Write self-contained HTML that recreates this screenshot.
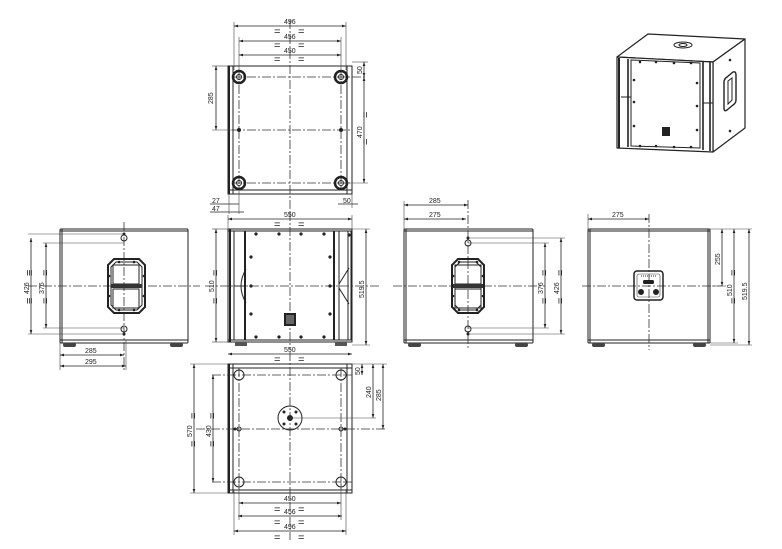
<!DOCTYPE html>
<html><head><meta charset="utf-8"><style>
html,body{margin:0;padding:0;background:#fff;}
svg{display:block;}
text{font-family:"Liberation Sans",sans-serif;font-size:7px;fill:#222;}
text.q{font-size:11px;}
.l{stroke:#222;stroke-width:1;fill:none;}
.t{stroke:#222;stroke-width:2;fill:none;}
.d{stroke:#222;stroke-width:0.8;fill:none;}
.c{stroke:#333;stroke-width:0.8;fill:none;stroke-dasharray:9,2,2,2;}
.e{stroke:#444;stroke-width:0.6;fill:none;}
</style></head><body>
<svg width="782" height="549" viewBox="0 0 782 549" xmlns="http://www.w3.org/2000/svg">
<defs>
<marker id="a" viewBox="0 0 6 6" refX="6" refY="3" markerWidth="5" markerHeight="5" orient="auto-start-reverse"><path d="M0,1 L6,3 L0,5 z" fill="#222"/></marker>
</defs>

<!-- ===== TOP VIEW ===== -->
<rect class="l" x="228" y="66" width="124" height="128"/>
<line class="t" x1="229" y1="66" x2="229" y2="194"/>
<line class="l" x1="233" y1="66" x2="233" y2="194"/>
<line class="l" x1="347" y1="66" x2="347" y2="194"/>
<line class="l" x1="228" y1="190" x2="352" y2="190"/>
<line class="c" x1="232" y1="77" x2="366" y2="77"/>
<line class="c" x1="232" y1="130" x2="352" y2="130"/>
<line class="c" x1="232" y1="183" x2="352" y2="183"/>
<line class="c" x1="239" y1="70" x2="239" y2="190"/>
<line class="c" x1="341" y1="70" x2="341" y2="190"/>
<line class="c" x1="290" y1="20" x2="290" y2="215"/>
<g fill="none" stroke="#222">
<circle cx="239" cy="77" r="6" stroke-width="2.5"/><circle cx="239" cy="77" r="2.5"/>
<circle cx="341" cy="77" r="6" stroke-width="2.5"/><circle cx="341" cy="77" r="2.5"/>
<circle cx="239" cy="183" r="6" stroke-width="2.5"/><circle cx="239" cy="183" r="2.5"/>
<circle cx="341" cy="183" r="6" stroke-width="2.5"/><circle cx="341" cy="183" r="2.5"/>
</g>
<circle cx="239" cy="130" r="2" fill="#222"/><circle cx="341" cy="130" r="2" fill="#222"/>
<line class="e" x1="234" y1="22" x2="234" y2="70"/><line class="e" x1="346" y1="22" x2="346" y2="70"/>
<line class="d" x1="234" y1="26" x2="346" y2="26" marker-start="url(#a)" marker-end="url(#a)"/>
<text x="284" y="24">496</text><text class="q" x="274" y="35">=</text><text class="q" x="298" y="35">=</text>
<line class="d" x1="239" y1="41" x2="341" y2="41" marker-start="url(#a)" marker-end="url(#a)"/>
<line class="e" x1="239" y1="37" x2="239" y2="70"/><line class="e" x1="341" y1="37" x2="341" y2="70"/>
<text x="284" y="39">456</text><text class="q" x="274" y="49">=</text><text class="q" x="298" y="49">=</text>
<line class="d" x1="239" y1="55" x2="341" y2="55" marker-start="url(#a)" marker-end="url(#a)"/>
<text x="284" y="53">450</text><text class="q" x="274" y="63">=</text><text class="q" x="298" y="63">=</text>
<line class="e" x1="212" y1="66" x2="228" y2="66"/><line class="e" x1="212" y1="130" x2="236" y2="130"/>
<line class="d" x1="216" y1="66" x2="216" y2="130" marker-start="url(#a)" marker-end="url(#a)"/>
<text transform="translate(213,104) rotate(-90)">285</text>
<line class="e" x1="352" y1="62" x2="368" y2="62"/><line class="e" x1="341" y1="183" x2="368" y2="183"/>
<line class="d" x1="364" y1="62" x2="364" y2="77" marker-start="url(#a)" marker-end="url(#a)"/>
<line class="d" x1="364" y1="77" x2="364" y2="183" marker-start="url(#a)" marker-end="url(#a)"/>
<text transform="translate(362,74) rotate(-90)">50</text>
<text transform="translate(362,138) rotate(-90)">470</text>
<text class="q" transform="translate(369,118) rotate(-90)">=</text><text class="q" transform="translate(369,145) rotate(-90)">=</text>
<text x="212" y="203">27</text><text x="212" y="211">47</text>
<line class="d" x1="210" y1="204" x2="239" y2="204"/><line class="d" x1="210" y1="212" x2="244" y2="212"/>
<line class="e" x1="229" y1="194" x2="229" y2="214"/><line class="e" x1="239" y1="190" x2="239" y2="214"/>
<line class="d" x1="338" y1="204" x2="358" y2="204"/><text x="343" y="203">50</text>
<line class="e" x1="352" y1="194" x2="352" y2="208"/>

<!-- ===== LEFT SIDE VIEW ===== -->
<rect class="l" x="60" y="229" width="128" height="114" rx="1"/>
<line class="l" x1="62" y1="229" x2="62" y2="343"/><line class="l" x1="60" y1="340" x2="188" y2="340"/>
<line class="l" x1="60" y1="231" x2="188" y2="231"/>
<rect x="63" y="343" width="13" height="4" rx="2" fill="#444"/><rect x="170" y="343" width="13" height="4" rx="2" fill="#444"/>
<line class="c" x1="28" y1="286" x2="200" y2="286"/>
<line class="c" x1="124" y1="222" x2="124" y2="372"/>
<path class="t" d="M114,259 L139,259 L145,265 L145,307 L139,313 L114,313 L108,307 L108,265 Z" stroke-width="1.6"/>
<path class="l" d="M116,262 L137,262 L142,267 L142,305 L137,310 L116,310 L111,305 L111,267 Z"/>
<rect class="l" x="113" y="265" width="26" height="19"/><rect class="l" x="113" y="289" width="26" height="19"/>
<rect x="111" y="284" width="31" height="4" fill="#333"/>
<g fill="#222"><circle cx="119" cy="262" r="1.3"/><circle cx="134" cy="262" r="1.3"/><circle cx="119" cy="310" r="1.3"/><circle cx="134" cy="310" r="1.3"/><circle cx="109" cy="276" r="1.3"/><circle cx="144" cy="276" r="1.3"/><circle cx="109" cy="296" r="1.3"/><circle cx="144" cy="296" r="1.3"/></g>
<circle cx="124" cy="238" r="3" class="l"/><circle cx="124" cy="234" r="1.5" fill="#222"/>
<circle cx="124" cy="329" r="3" class="l"/><circle cx="124" cy="334" r="1.5" fill="#222"/>
<line class="e" x1="28" y1="234" x2="124" y2="234"/><line class="e" x1="28" y1="334" x2="124" y2="334"/>
<line class="e" x1="43" y1="243" x2="124" y2="243"/><line class="e" x1="43" y1="328" x2="124" y2="328"/>
<line class="d" x1="31" y1="238" x2="31" y2="334" marker-start="url(#a)" marker-end="url(#a)"/>
<line class="d" x1="46" y1="243" x2="46" y2="328" marker-start="url(#a)" marker-end="url(#a)"/>
<text transform="translate(29,294) rotate(-90)">426</text><text transform="translate(44,294) rotate(-90)">376</text>
<text class="q" transform="translate(33,276) rotate(-90)">≡</text><text class="q" transform="translate(33,304) rotate(-90)">≡</text>
<text class="q" transform="translate(49,276) rotate(-90)">=</text><text class="q" transform="translate(49,304) rotate(-90)">=</text>
<line class="e" x1="60" y1="343" x2="60" y2="370"/><line class="e" x1="126" y1="340" x2="126" y2="370"/>
<line class="d" x1="60" y1="355" x2="124" y2="355" marker-start="url(#a)" marker-end="url(#a)"/>
<line class="d" x1="60" y1="366" x2="126" y2="366" marker-start="url(#a)" marker-end="url(#a)"/>
<text x="85" y="353">285</text><text x="85" y="364">295</text>

<!-- ===== FRONT VIEW ===== -->
<rect class="l" x="228" y="229" width="124" height="113"/>
<line class="t" x1="230" y1="229" x2="230" y2="342"/>
<line class="l" x1="234" y1="231" x2="234" y2="340"/>
<line class="t" x1="245" y1="231" x2="245" y2="340"/>
<line class="l" x1="228" y1="231" x2="352" y2="231"/>
<line class="l" x1="228" y1="340" x2="352" y2="340"/>
<line class="t" x1="334" y1="231" x2="334" y2="340"/>
<line class="l" x1="339" y1="231" x2="339" y2="340"/>
<line class="l" x1="348" y1="231" x2="348" y2="340"/>
<line class="l" x1="351" y1="231" x2="351" y2="340"/>
<path class="l" d="M246,269 Q236,286 246,303 M234,286 L246,286"/>
<path class="l" d="M339,284 L349,268 M339,288 L349,304"/>
<rect x="235" y="342" width="12" height="4" fill="#555"/><rect x="335" y="342" width="12" height="4" fill="#555"/>
<line class="c" x1="205" y1="286" x2="380" y2="286"/>
<line class="c" x1="290" y1="212" x2="290" y2="350"/>
<g fill="#222">
<circle cx="256" cy="234" r="1.6"/><circle cx="279" cy="234" r="1.6"/><circle cx="301" cy="234" r="1.6"/><circle cx="324" cy="234" r="1.6"/>
<circle cx="256" cy="337" r="1.6"/><circle cx="279" cy="337" r="1.6"/><circle cx="301" cy="337" r="1.6"/><circle cx="324" cy="337" r="1.6"/>
<circle cx="251" cy="257" r="1.6"/><circle cx="251" cy="286" r="1.6"/><circle cx="251" cy="314" r="1.6"/>
<circle cx="330" cy="257" r="1.6"/><circle cx="330" cy="286" r="1.6"/><circle cx="330" cy="314" r="1.6"/>
<circle cx="349" cy="235" r="1.6"/>
</g>
<rect x="284" y="313" width="12" height="13" fill="#222"/><rect x="286" y="315" width="8" height="9" fill="#666"/>
<line class="e" x1="228" y1="215" x2="228" y2="229"/><line class="e" x1="352" y1="215" x2="352" y2="229"/>
<line class="d" x1="228" y1="219" x2="352" y2="219" marker-start="url(#a)" marker-end="url(#a)"/>
<text x="284" y="217">550</text><text class="q" x="274" y="228">=</text><text class="q" x="298" y="228">=</text>
<line class="e" x1="212" y1="229" x2="228" y2="229"/><line class="e" x1="212" y1="342" x2="228" y2="342"/>
<line class="d" x1="216" y1="229" x2="216" y2="342" marker-start="url(#a)" marker-end="url(#a)"/>
<text transform="translate(214,292) rotate(-90)">510</text>
<text class="q" transform="translate(219,276) rotate(-90)">=</text><text class="q" transform="translate(219,304) rotate(-90)">=</text>
<line class="e" x1="352" y1="229" x2="370" y2="229"/><line class="e" x1="352" y1="345" x2="370" y2="345"/>
<line class="d" x1="366" y1="229" x2="366" y2="345" marker-start="url(#a)" marker-end="url(#a)"/>
<text transform="translate(364,298) rotate(-90)">519.5</text>

<!-- ===== RIGHT SIDE VIEW ===== -->
<rect class="l" x="404" y="229" width="129" height="114" rx="1"/>
<line class="l" x1="406" y1="229" x2="406" y2="343"/><line class="l" x1="404" y1="231" x2="533" y2="231"/>
<line class="l" x1="404" y1="340" x2="533" y2="340"/>
<rect x="408" y="343" width="13" height="4" rx="2" fill="#444"/><rect x="515" y="343" width="13" height="4" rx="2" fill="#444"/>
<line class="c" x1="393" y1="286" x2="545" y2="286"/>
<line class="c" x1="468" y1="200" x2="468" y2="350"/>
<path class="t" d="M458,259 L478,259 L484,265 L484,307 L478,313 L458,313 L452,307 L452,265 Z" stroke-width="1.6"/>
<path class="l" d="M460,262 L476,262 L481,267 L481,305 L476,310 L460,310 L455,305 L455,267 Z"/>
<rect class="l" x="455" y="265" width="26" height="19"/><rect class="l" x="455" y="289" width="26" height="19"/>
<rect x="453" y="284" width="30" height="4" fill="#333"/>
<g fill="#222"><circle cx="459" cy="262" r="1.3"/><circle cx="477" cy="262" r="1.3"/><circle cx="459" cy="310" r="1.3"/><circle cx="477" cy="310" r="1.3"/><circle cx="453" cy="276" r="1.3"/><circle cx="483" cy="276" r="1.3"/><circle cx="453" cy="296" r="1.3"/><circle cx="483" cy="296" r="1.3"/></g>
<circle cx="468" cy="243" r="3" class="l"/><circle cx="468" cy="238" r="1.5" fill="#222"/>
<circle cx="468" cy="329" r="3" class="l"/><circle cx="468" cy="334" r="1.5" fill="#222"/>
<line class="e" x1="468" y1="243" x2="549" y2="243"/><line class="e" x1="468" y1="328" x2="549" y2="328"/>
<line class="e" x1="468" y1="238" x2="565" y2="238"/><line class="e" x1="468" y1="334" x2="565" y2="334"/>
<line class="d" x1="545" y1="243" x2="545" y2="328" marker-start="url(#a)" marker-end="url(#a)"/>
<line class="d" x1="561" y1="238" x2="561" y2="334" marker-start="url(#a)" marker-end="url(#a)"/>
<text transform="translate(543,294) rotate(-90)">376</text><text transform="translate(559,294) rotate(-90)">426</text>
<text class="q" transform="translate(548,276) rotate(-90)">=</text><text class="q" transform="translate(548,304) rotate(-90)">=</text>
<text class="q" transform="translate(564,276) rotate(-90)">=</text><text class="q" transform="translate(564,304) rotate(-90)">=</text>
<line class="e" x1="404" y1="201" x2="404" y2="229"/>
<line class="d" x1="404" y1="205" x2="468" y2="205" marker-start="url(#a)" marker-end="url(#a)"/>
<line class="d" x1="404" y1="219" x2="466" y2="219" marker-start="url(#a)" marker-end="url(#a)"/>
<text x="429" y="203">285</text><text x="429" y="217">275</text>

<!-- ===== REAR VIEW ===== -->
<rect class="l" x="588" y="229" width="122" height="114" rx="1"/>
<line class="l" x1="590" y1="229" x2="590" y2="343"/><line class="l" x1="708" y1="229" x2="708" y2="343"/>
<line class="l" x1="588" y1="231" x2="710" y2="231"/><line class="l" x1="588" y1="340" x2="710" y2="340"/>
<rect x="592" y="343" width="13" height="4" rx="2" fill="#444"/><rect x="693" y="343" width="13" height="4" rx="2" fill="#444"/>
<line class="c" x1="582" y1="286" x2="722" y2="286"/>
<line class="c" x1="649" y1="214" x2="649" y2="350"/>
<rect x="634" y="271" width="29" height="29" rx="3" fill="none" stroke="#222" stroke-width="1.5"/>
<rect x="637" y="274" width="23" height="23" rx="2" class="e"/>
<rect x="643" y="280" width="11" height="4" rx="1.5" fill="#222"/>
<circle cx="641" cy="292" r="3" fill="#222"/><circle cx="656" cy="292" r="3" fill="#222"/>
<line x1="641" y1="276" x2="656" y2="276" stroke="#555" stroke-width="1.2" stroke-dasharray="1,1"/>
<line class="e" x1="588" y1="214" x2="588" y2="229"/>
<line class="d" x1="588" y1="219" x2="649" y2="219" marker-start="url(#a)" marker-end="url(#a)"/>
<text x="612" y="217">275</text>
<line class="e" x1="710" y1="229" x2="752" y2="229"/><line class="e" x1="710" y1="343" x2="738" y2="343"/>
<line class="e" x1="710" y1="345" x2="752" y2="345"/><line class="e" x1="712" y1="286" x2="726" y2="286"/>
<line class="d" x1="722" y1="229" x2="722" y2="286" marker-start="url(#a)" marker-end="url(#a)"/>
<line class="d" x1="734" y1="229" x2="734" y2="343" marker-start="url(#a)" marker-end="url(#a)"/>
<line class="d" x1="749" y1="229" x2="749" y2="345" marker-start="url(#a)" marker-end="url(#a)"/>
<text transform="translate(720,265) rotate(-90)">255</text>
<text transform="translate(732,296) rotate(-90)">510</text>
<text transform="translate(747,300) rotate(-90)">519.5</text>
<text class="q" transform="translate(737,276) rotate(-90)">=</text><text class="q" transform="translate(737,304) rotate(-90)">=</text>

<!-- ===== BOTTOM VIEW ===== -->
<rect class="l" x="228" y="364" width="124" height="129"/>
<line class="t" x1="229" y1="364" x2="229" y2="493"/>
<line class="l" x1="233" y1="364" x2="233" y2="493"/>
<line class="l" x1="347" y1="364" x2="347" y2="493"/>
<line class="l" x1="228" y1="368" x2="352" y2="368"/><line class="l" x1="228" y1="490" x2="352" y2="490"/>
<line class="c" x1="212" y1="375" x2="352" y2="375"/>
<line class="c" x1="196" y1="429" x2="386" y2="429"/>
<line class="c" x1="212" y1="482" x2="352" y2="482"/>
<line class="c" x1="239" y1="368" x2="239" y2="490"/>
<line class="c" x1="341" y1="368" x2="341" y2="490"/>
<line class="c" x1="290" y1="352" x2="290" y2="540"/>
<g class="l" stroke-width="1.4">
<circle cx="239" cy="375" r="5"/><circle cx="341" cy="375" r="5"/>
<circle cx="239" cy="482" r="5"/><circle cx="341" cy="482" r="5"/>
</g>
<circle cx="239" cy="429" r="2" class="l"/><circle cx="341" cy="429" r="2" class="l"/>
<circle cx="235" cy="429" r="1.5" fill="#222"/><circle cx="345" cy="429" r="1.5" fill="#222"/>
<circle cx="290" cy="418" r="12" class="l"/><circle cx="290" cy="418" r="3" fill="#222"/>
<circle cx="284" cy="412" r="1.5" fill="#222"/><circle cx="296" cy="412" r="1.5" fill="#222"/>
<circle cx="284" cy="424" r="1.5" fill="#222"/><circle cx="296" cy="424" r="1.5" fill="#222"/>
<line class="e" x1="290" y1="418" x2="376" y2="418"/>
<line class="d" x1="228" y1="354" x2="352" y2="354" marker-start="url(#a)" marker-end="url(#a)"/>
<text x="284" y="352">550</text><text class="q" x="274" y="363">=</text><text class="q" x="298" y="363">=</text>
<line class="e" x1="190" y1="364" x2="228" y2="364"/><line class="e" x1="190" y1="493" x2="228" y2="493"/>
<line class="d" x1="194" y1="364" x2="194" y2="493" marker-start="url(#a)" marker-end="url(#a)"/>
<line class="d" x1="213" y1="375" x2="213" y2="482" marker-start="url(#a)" marker-end="url(#a)"/>
<text transform="translate(192,437) rotate(-90)">570</text><text transform="translate(211,437) rotate(-90)">430</text>
<text class="q" transform="translate(197,419) rotate(-90)">=</text><text class="q" transform="translate(197,447) rotate(-90)">=</text>
<text class="q" transform="translate(216,419) rotate(-90)">=</text><text class="q" transform="translate(216,447) rotate(-90)">=</text>
<line class="e" x1="352" y1="364" x2="387" y2="364"/>
<line class="d" x1="362" y1="364" x2="362" y2="375" marker-start="url(#a)" marker-end="url(#a)"/>
<line class="d" x1="373" y1="364" x2="373" y2="418" marker-start="url(#a)" marker-end="url(#a)"/>
<line class="d" x1="383" y1="364" x2="383" y2="429" marker-start="url(#a)" marker-end="url(#a)"/>
<text transform="translate(360,375) rotate(-90)">50</text>
<text transform="translate(371,398) rotate(-90)">240</text>
<text transform="translate(381,401) rotate(-90)">285</text>
<line class="e" x1="239" y1="482" x2="239" y2="520"/><line class="e" x1="341" y1="482" x2="341" y2="520"/>
<line class="e" x1="234" y1="490" x2="234" y2="535"/><line class="e" x1="346" y1="490" x2="346" y2="535"/>
<line class="d" x1="239" y1="503" x2="341" y2="503" marker-start="url(#a)" marker-end="url(#a)"/>
<line class="d" x1="238" y1="516" x2="342" y2="516" marker-start="url(#a)" marker-end="url(#a)"/>
<line class="d" x1="234" y1="531" x2="346" y2="531" marker-start="url(#a)" marker-end="url(#a)"/>
<text x="284" y="501">450</text><text class="q" x="274" y="513">=</text><text class="q" x="298" y="513">=</text>
<text x="284" y="514">456</text><text class="q" x="274" y="526">=</text><text class="q" x="298" y="526">=</text>
<text x="284" y="529">496</text><text class="q" x="274" y="541">=</text><text class="q" x="298" y="541">=</text>

<!-- ===== ISO VIEW ===== -->
<g stroke="#222" fill="#fff" stroke-width="1.2" stroke-linejoin="round">
<polygon points="617,57 648,34 745,39 713,62"/>
<polygon points="713,62 745,39 745,128 713,152"/>
<polygon points="617,57 713,62 713,152 617,148"/>
</g>
<g class="l">
<polygon points="631,60 700,63 700,148 631,146"/>
<line x1="619" y1="58" x2="619" y2="148" stroke-width="2"/><line x1="628" y1="59" x2="628" y2="147" stroke-width="1.6"/>
<line x1="703" y1="62" x2="703" y2="150" stroke-width="1.6"/><line x1="710" y1="62" x2="710" y2="151" stroke-width="1.6"/>
<polyline points="621,97 631,97"/><polyline points="703,103 713,103"/>
<ellipse cx="683" cy="45" rx="9" ry="3"/><ellipse cx="683" cy="45" rx="4" ry="1.5"/>
<path d="M727,77 L733,72 Q736,71 736,75 L736,100 Q736,103 733,105 L727,110 Q724,112 724,108 L724,82 Q724,79 727,77 Z" stroke-width="1.4"/>
<path d="M728,81 L732,78 L732,100 L728,104 Z"/>
</g>
<rect x="662" y="127" width="8" height="9" fill="#222"/>
<g fill="#222">
<circle cx="640" cy="62" r="1.3"/><circle cx="656" cy="62" r="1.3"/><circle cx="674" cy="63" r="1.3"/><circle cx="691" cy="63" r="1.3"/>
<circle cx="640" cy="146" r="1.3"/><circle cx="656" cy="146" r="1.3"/><circle cx="674" cy="147" r="1.3"/><circle cx="691" cy="147" r="1.3"/>
<circle cx="634" cy="80" r="1.3"/><circle cx="634" cy="102" r="1.3"/><circle cx="634" cy="126" r="1.3"/>
<circle cx="697" cy="83" r="1.3"/><circle cx="697" cy="106" r="1.3"/><circle cx="697" cy="130" r="1.3"/>
<circle cx="730" cy="60" r="1.3"/><circle cx="730" cy="131" r="1.3"/>
</g>
</svg>
</body></html>
